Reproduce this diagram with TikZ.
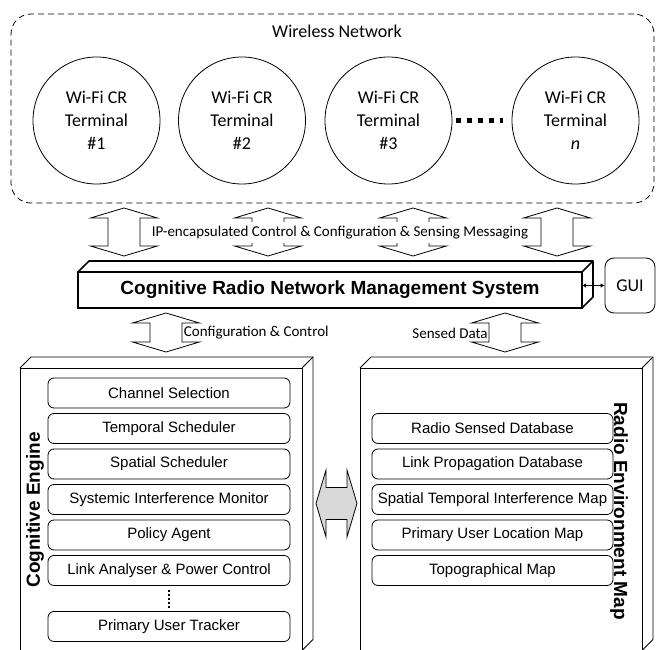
\documentclass[tikz,border=0pt]{standalone}
\usepackage{fontspec}
\setmainfont{Carlito}
\newfontfamily\arialfont{Liberation Sans}
\usetikzlibrary{arrows.meta}

% hollow double arrow, vertical, #1 = length
\tikzset{pics/dblarrow/.style={code={
  \draw[pic actions] (0,-#1/2) -- (33.5,-#1/2+10) -- (16,-#1/2+10) -- (16,#1/2-10) -- (33.5,#1/2-10) -- (0,#1/2)
    -- (-33.5,#1/2-10) -- (-16,#1/2-10) -- (-16,-#1/2+10) -- (-33.5,-#1/2+10) -- cycle;
}}}

\begin{document}
\begin{tikzpicture}[x=1pt,y=-1pt,line width=0.8pt,
  term/.style={circle,draw,minimum size=127,inner sep=0,align=center,font=\fontsize{18}{23}\selectfont},
  subbox/.style={draw,rounded corners=6,minimum width=242,minimum height=30,inner sep=0,font=\arialfont\fontsize{15}{18}\selectfont},
  block/.style={draw,minimum width=282,minimum height=282.5,inner sep=0,outer sep=0},
  msg/.style={font=\fontsize{15}{18}\selectfont,inner sep=1pt},
  title/.style={inner sep=0,font=\arialfont\bfseries\fontsize{19}{22}\selectfont}]
\useasboundingbox (0,0) rectangle (657,650);

% wireless network
\node[draw,dash pattern=on 6pt off 4pt,rounded corners=20,minimum width=643,minimum height=189] (wn) at (332.5,108.5) {};
\node[anchor=base,font=\fontsize{18}{22}\selectfont] (wnlabel) at (337,38) {Wireless Network};
\node[term] (t1) at (96.5,120.5) {Wi-Fi CR\\Terminal\\\#1};
\node[term] (t2) at (242,120.5) {Wi-Fi CR\\Terminal\\\#2};
\node[term] (t3) at (388.5,120.5) {Wi-Fi CR\\Terminal\\\#3};
\node[term] (tn) at (575.5,120.5) {Wi-Fi CR\\Terminal\\\textit{n}};
\draw[line width=5pt,dash pattern=on 5pt off 6pt,shorten <=3.5pt,shorten >=8.5pt] (t3) -- (tn);

% messaging
\foreach \x in {124,268,413,557}
  \pic at (\x,232) {dblarrow=48};
\node[msg,fill=white,minimum height=21,inner xsep=2pt] (ipmsg) at (340,232.5) {IP-encapsulated Control \& Configuration \& Sensing Messaging};

% management system
\node[draw,line width=1.6pt,outer sep=0,minimum width=504,minimum height=36,title] (nms) at (330,290) {Cognitive Radio Network Management System};
\draw[line width=1.6pt,line join=round] (nms.north west) -- ++(11,-11) -- ++(504,0) -- ++(0,36) -- (nms.south east);
\draw[line width=1.6pt] (nms.north east) -- ++(11,-11);
\node[draw,rounded corners=9,minimum width=50,minimum height=55,font=\fontsize{18}{22}\selectfont] (gui) at (630,285.5) {GUI};
\draw[{Latex[length=4pt,width=4.5pt]}-{Latex[length=4pt,width=4.5pt]},line width=1.2pt] (gui.west -| nms.east) -- (gui.west);

% lower links
\pic at (166,332.5) {dblarrow=39};
\node[msg,anchor=west] (cfg) at (182.5,333) {Configuration \& Control};
\pic at (505,332.5) {dblarrow=39};
\node[msg,anchor=east] (sensed) at (489,333) {Sensed Data};

% cognitive engine
\node[block] (ce) at (161,509.25) {};
\draw (ce.north west) -- ++(11,-11) -- ++(282,0) -- ++(0,282.5) -- (ce.south east);
\draw (ce.north east) -- ++(11,-11);
\node[title,rotate=90] (celabel) at (35,510) {Cognitive Engine};
\foreach \name/\txt [count=\i] in {chs/Channel Selection,tms/Temporal Scheduler,sps/Spatial Scheduler,
    sim/Systemic Interference Monitor,pol/Policy Agent,lnk/Link Analyser \& Power Control}
  \node[subbox] (\name) at (169,357.5+35.5*\i) {\txt};
\node[subbox] (put) at (169,626.5) {Primary User Tracker};
\draw[line width=2pt,dash pattern=on 2pt off 2pt,shorten <=4pt,shorten >=2.5pt] (lnk) -- (put);

% radio environment map
\node[block] (rem) at (501,509.25) {};
\draw (rem.north west) -- ++(11,-11) -- ++(282,0) -- ++(0,282.5) -- (rem.south east);
\draw (rem.north east) -- ++(11,-11);
\node[title,rotate=-90] (remlabel) at (619,511) {Radio Environment Map};
\foreach \name/\txt [count=\i] in {rsd/Radio Sensed Database,lpd/Link Propagation Database,
    sti/Spatial Temporal Interference Map,pul/Primary User Location Map,topo/Topographical Map}
  \node[subbox,minimum width=241] (\name) at (492.5,393+35.5*\i) {\txt};

\pic[fill=gray!30,rotate=90] at (336.5,503.5) {dblarrow=41};
\end{tikzpicture}
\end{document}
